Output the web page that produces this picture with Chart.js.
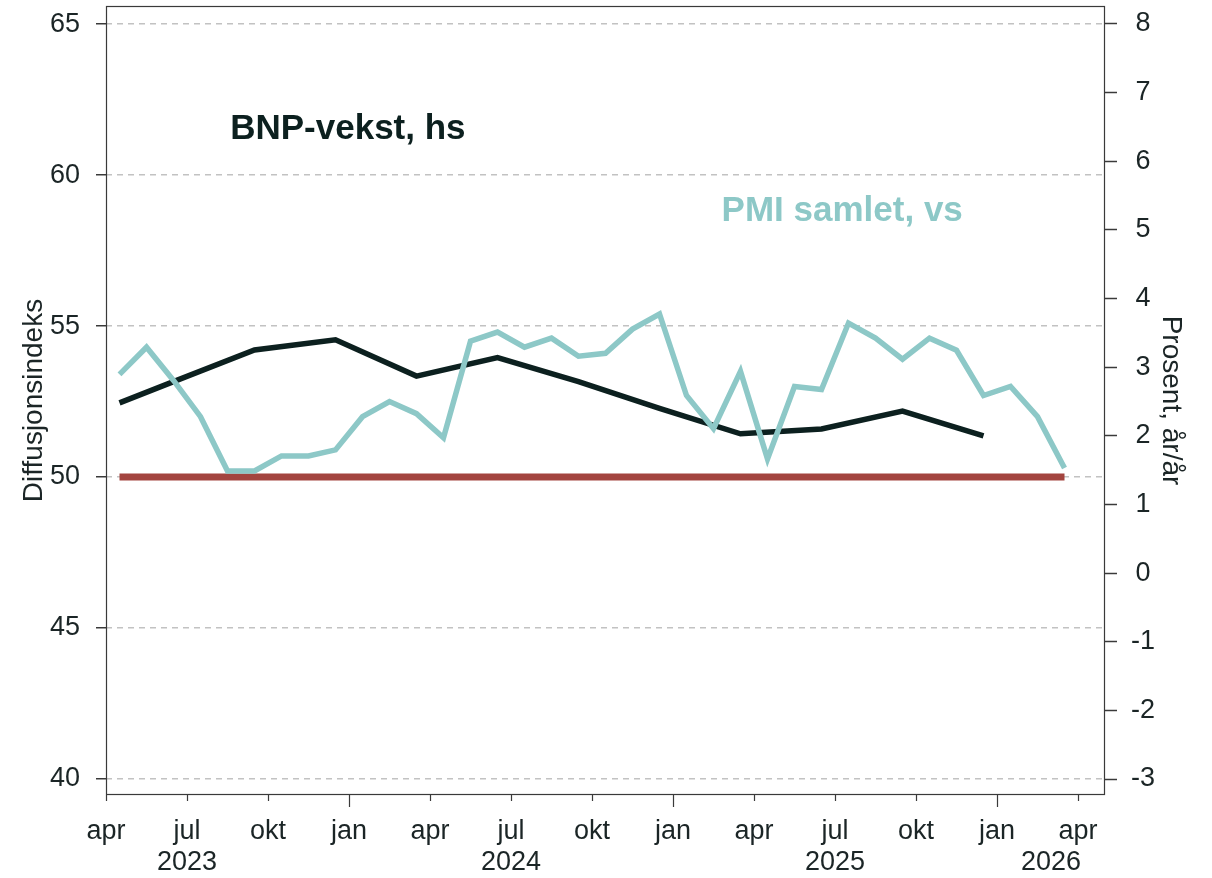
<!DOCTYPE html>
<html>
<head>
<meta charset="utf-8">
<script src="https://cdn.jsdelivr.net/npm/chart.js@4.4.1/dist/chart.umd.min.js"></script>
<style>
  html, body { margin: 0; padding: 0; background: #fff; }
</style>
</head>
<body>
<canvas id="pmiChart" width="1212" height="878"></canvas>
<script>
// PMI samlet (venstre akse), månedlig
const pmiMonths = [
  '2023-04', '2023-05', '2023-06', '2023-07', '2023-08', '2023-09', '2023-10', '2023-11', '2023-12',
  '2024-01', '2024-02', '2024-03', '2024-04', '2024-05', '2024-06', '2024-07', '2024-08', '2024-09',
  '2024-10', '2024-11', '2024-12', '2025-01', '2025-02', '2025-03', '2025-04', '2025-05', '2025-06',
  '2025-07', '2025-08', '2025-09', '2025-10', '2025-11', '2025-12', '2026-01', '2026-02', '2026-03'
];
const pmiValues = [
  53.4, 54.3, 53.2, 52.0, 50.2, 50.2, 50.7, 50.7, 50.9,
  52.0, 52.5, 52.1, 51.3, 54.5, 54.8, 54.3, 54.6, 54.0,
  54.1, 54.9, 55.4, 52.7, 51.6, 53.5, 50.6, 53.0, 52.9,
  55.1, 54.6, 53.9, 54.6, 54.2, 52.7, 53.0, 52.0, 50.3
];

// BNP-vekst år/år (høyre akse)
const bnpMonths = ['2023-04', '2023-06', '2023-09', '2023-12', '2024-03', '2024-06',
                   '2024-09', '2024-12', '2025-03', '2025-06', '2025-09', '2025-12'];
const bnpValues = [2.48, 2.79, 3.25, 3.40, 2.87, 3.14, 2.79, 2.40, 2.03, 2.10, 2.36, 2.00];

const refLevel = 50;

const monthNames = ['apr', 'mai', 'jun', 'jul', 'aug', 'sep', 'okt', 'nov', 'des', 'jan', 'feb', 'mar'];
const xTickMonths = ['2023-04', '2023-07', '2023-10', '2024-01', '2024-04', '2024-07', '2024-10',
                     '2025-01', '2025-04', '2025-07', '2025-10', '2026-01', '2026-04'];
const yearLabels = ['2023', '2024', '2025', '2026'];
const yearLabelMonths = ['2023-07', '2024-07', '2025-07', '2026-03'];
const leftTicks = [40, 45, 50, 55, 60, 65];
const rightTicks = [-3, -2, -1, 0, 1, 2, 3, 4, 5, 6, 7, 8];

const colors = {
  pmi: '#8dc8c7',
  bnp: '#0c201f',
  ref: '#a3443f',
  text: '#1b2526',
  grid: '#c2c2c2',
  frame: '#3a3a3a'
};

const tickFont = { family: 'Liberation Sans', size: 27 };
const titleFont = { family: 'Liberation Sans', size: 28 };

// month index, apr 2023 = 0
function monthIndex(s) {
  const [y, m] = s.split('-').map(Number);
  return (y - 2023) * 12 + (m - 4);
}
const mid = s => monthIndex(s) + 0.5;

const noPad = s => { s.paddingTop = 0; s.paddingBottom = 0; s.paddingLeft = 0; s.paddingRight = 0; };

const framePlugin = {
  id: 'frame',
  afterDraw(chart) {
    const { ctx, chartArea: a, scales: { x, y } } = chart;
    ctx.save();
    ctx.strokeStyle = colors.frame;
    ctx.lineWidth = 1.2;
    ctx.strokeRect(a.left + 0.5, a.top + 0.5, a.right - a.left - 1, a.bottom - a.top - 1);

    // x tick marks, longer at year change
    x.ticks.forEach(t => {
      const px = Math.round(x.getPixelForValue(t.value)) + 0.5;
      const len = ((t.value % 12) + 12) % 12 === 9 ? 12 : 6;
      ctx.beginPath();
      ctx.moveTo(px, a.bottom);
      ctx.lineTo(px, a.bottom + len);
      ctx.stroke();
    });

    ctx.fillStyle = colors.text;
    ctx.font = `${tickFont.size}px "${tickFont.family}"`;
    ctx.textAlign = 'center';
    ctx.textBaseline = 'middle';
    yearLabels.forEach((yr, i) => {
      ctx.fillText(yr, x.getPixelForValue(monthIndex(yearLabelMonths[i])), a.bottom + 68);
    });

    // series labels
    ctx.font = 'bold 35px "Liberation Sans"';
    ctx.textAlign = 'left';
    ctx.fillStyle = colors.bnp;
    ctx.fillText('BNP-vekst, hs', x.getPixelForValue(4.6), y.getPixelForValue(61.5));
    ctx.fillStyle = colors.pmi;
    ctx.fillText('PMI samlet, vs', x.getPixelForValue(22.8), y.getPixelForValue(58.8));
    ctx.restore();
  }
};

const ctx = document.getElementById('pmiChart').getContext('2d');
new Chart(ctx, {
  type: 'line',
  data: {
    datasets: [
      {
        label: 'PMI samlet',
        data: pmiMonths.map((m, i) => ({ x: mid(m), y: pmiValues[i] })),
        borderColor: colors.pmi,
        borderWidth: 5.5,
        pointRadius: 0,
        yAxisID: 'y'
      },
      {
        label: 'BNP-vekst',
        data: bnpMonths.map((m, i) => ({ x: mid(m), y: bnpValues[i] })),
        borderColor: colors.bnp,
        borderWidth: 5.5,
        pointRadius: 0,
        yAxisID: 'y1'
      },
      {
        label: '50',
        data: [
          { x: mid(pmiMonths[0]), y: refLevel },
          { x: mid(pmiMonths[pmiMonths.length - 1]), y: refLevel }
        ],
        borderColor: colors.ref,
        borderWidth: 7,
        pointRadius: 0,
        yAxisID: 'y'
      }
    ]
  },
  options: {
    responsive: false,
    animation: false,
    layout: { padding: { top: 6, left: 0, right: 0, bottom: 0 } },
    plugins: { legend: { display: false }, tooltip: { enabled: false } },
    scales: {
      x: {
        type: 'linear',
        min: 0,
        max: 37,
        afterBuildTicks: s => { s.ticks = xTickMonths.map(m => ({ value: monthIndex(m) })); },
        afterFit: s => { s.height = 83; noPad(s); },
        grid: { display: false },
        border: { display: false },
        ticks: {
          color: colors.text,
          font: tickFont,
          padding: 12,
          maxRotation: 0,
          autoSkip: false,
          callback: v => monthNames[((v % 12) + 12) % 12]
        }
      },
      y: {
        position: 'left',
        min: 39.47,
        max: 65.6,
        afterBuildTicks: s => { s.ticks = leftTicks.map(v => ({ value: v })); },
        afterFit: s => { s.width = 106; noPad(s); },
        grid: {
          color: colors.grid,
          lineWidth: 1.5,
          tickColor: colors.frame,
          tickLength: 10,
          tickWidth: 1.5,
          tickBorderDash: []
        },
        border: { display: false, dash: [6, 5] },
        ticks: { color: colors.text, font: tickFont, padding: 16 },
        title: {
          display: true,
          text: 'Diffusjonsindeks',
          color: colors.text,
          font: titleFont,
          padding: { top: 17, bottom: 0 }
        }
      },
      y1: {
        position: 'right',
        min: -3.233,
        max: 8.262,
        afterBuildTicks: s => { s.ticks = rightTicks.map(v => ({ value: v })); },
        afterFit: s => { s.width = 107; noPad(s); },
        grid: {
          drawOnChartArea: false,
          tickColor: colors.frame,
          tickLength: 12,
          tickWidth: 1.5
        },
        border: { display: false },
        ticks: { color: colors.text, font: tickFont, padding: 14, crossAlign: 'center' },
        title: {
          display: true,
          text: 'Prosent, år/år',
          color: colors.text,
          font: titleFont,
          padding: { top: 24, bottom: 0 }
        }
      }
    }
  },
  plugins: [framePlugin]
});
</script>
</body>
</html>
